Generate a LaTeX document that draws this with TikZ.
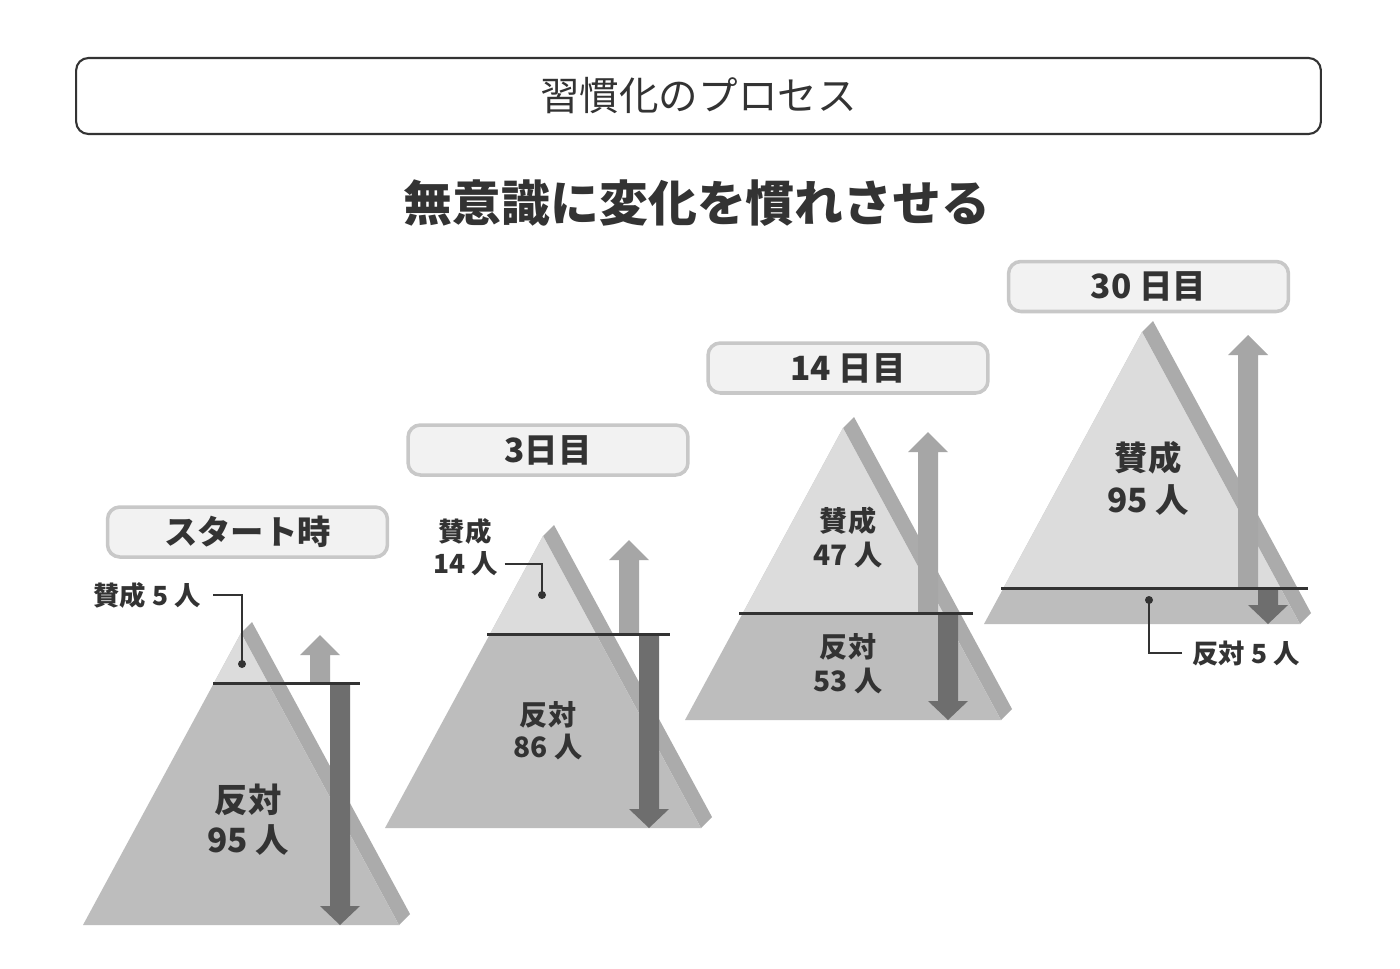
\documentclass[tikz,border=0pt]{standalone}
\usepackage{fontspec}
\setmainfont{Noto Sans CJK JP}
\definecolor{txtc}{HTML}{333333}
\definecolor{boxb}{HTML}{C8C8C8}
\definecolor{boxf}{HTML}{F2F2F2}
\definecolor{lowc}{HTML}{BDBDBD}
\definecolor{upc}{HTML}{DCDCDC}
\definecolor{stripc}{HTML}{ABABAB}
\definecolor{uparc}{HTML}{A6A6A6}
\definecolor{dnarc}{HTML}{6E6E6E}
\tikzset{
  daybox/.style={draw=boxb, line width=2pt, fill=boxf, rounded corners=7pt,
    minimum width=5.6cm, minimum height=1cm, inner sep=0pt,
    font=\bfseries\fontsize{19}{21}\selectfont, text=txtc},
  bigtxt/.style={inner sep=0pt, text=txtc, font=\bfseries\fontsize{19}{21}\selectfont},
  midtxt/.style={inner sep=0pt, text=txtc, font=\bfseries\fontsize{16}{18}\selectfont},
  smalltxt/.style={inner sep=0pt, text=txtc, font=\bfseries\fontsize{15}{17}\selectfont},
  divline/.style={draw=txtc, line width=1.7pt},
  leader/.style={draw=txtc, line width=0.9pt},
  dotc/.style={fill=txtc},
}
% #1 cx, #2 base y, #3 line y, #4 line x1, #5 line x2, #6 up cx, #7 up tip y, #8 down cx
\newcommand\mypyr[8]{%
  \fill[stripc] ({#1},{#2-292}) -- ({#1+11},{#2-303}) -- ({#1+169},{#2-11}) -- ({#1+158},{#2}) -- cycle;
  \fill[lowc] ({#1-158},{#2}) -- ({#1},{#2-292}) -- ({#1+158},{#2}) -- cycle;
  \begin{scope}
    \clip ({#1-200},{#2-400}) rectangle ({#1+200},{#3});
    \fill[upc] ({#1-158},{#2}) -- ({#1},{#2-292}) -- ({#1+158},{#2}) -- cycle;
  \end{scope}
  \fill[uparc] ({#6-10},{#3}) -- ({#6-10},{#7+20}) -- ({#6-20},{#7+20}) -- ({#6},{#7})
    -- ({#6+20},{#7+20}) -- ({#6+10},{#7+20}) -- ({#6+10},{#3}) -- cycle;
  \fill[dnarc] ({#8-10},{#3}) -- ({#8-10},{#2-19}) -- ({#8-20},{#2-19}) -- ({#8},{#2})
    -- ({#8+20},{#2-19}) -- ({#8+10},{#2-19}) -- ({#8+10},{#3}) -- cycle;
  \draw[divline] ({#4},{#3}) -- ({#5},{#3});
}
\begin{document}
\begin{tikzpicture}[x=0.02cm,y=-0.02cm]
\useasboundingbox[fill=white] (0,0) rectangle (1400,968);
% title
\node[draw=txtc, line width=1.2pt, rounded corners=7pt, minimum width=24.9cm, minimum height=1.52cm,
  inner sep=0pt, text=txtc, font=\fontsize{22.5}{24}\selectfont] (title) at (698.5,96) {習慣化のプロセス};
\node[inner sep=0pt, text=txtc, font=\bfseries\fontsize{27.8}{30}\selectfont] (sub) at (697,203) {無意識に変化を慣れさせる};
% pyramids
\mypyr{241}{925}{683}{213}{360}{320}{635}{340}
\mypyr{543}{828}{634}{487}{670}{629}{540}{649}
\mypyr{843}{720}{613}{739}{973}{928}{432}{948}
\mypyr{1142}{624}{588}{1001}{1308}{1248}{335}{1268}
% day boxes
\node[daybox] (b1) at (247.5,532) {スタート時};
\node[daybox] (b2) at (548,450) {3日目};
\node[daybox] (b3) at (848,368) {14 日目};
\node[daybox] (b4) at (1148.5,286.5) {30 日目};
% pyramid 1 labels
\node[smalltxt, anchor=east] (s1) at (201,595) {賛成 5 人};
\coordinate (d1) at (242,664);
\fill[dotc] (d1) circle (4);
\draw[leader] (s1.east) ++(12,0) -| (d1);
\node[bigtxt] (p1a) at (248,800) {反対};
\node[bigtxt] (p1b) at (248,840) {95 人};
% pyramid 2 labels
\node[smalltxt] (s2a) at (465,531) {賛成};
\node[smalltxt] (s2b) at (466,564) {14 人};
\coordinate (d2) at (542,595);
\fill[dotc] (d2) circle (4);
\draw[leader] (s2b.east) ++(6,0) -| (d2);
\node[midtxt] (p2a) at (548,715) {反対};
\node[midtxt] (p2b) at (548,747) {86 人};
% pyramid 3 labels
\node[midtxt] (p3a) at (848,521) {賛成};
\node[midtxt] (p3b) at (848,555) {47 人};
\node[midtxt] (p3c) at (848,647) {反対};
\node[midtxt] (p3d) at (848,681) {53 人};
% pyramid 4 labels
\node[bigtxt] (p4a) at (1148,458) {賛成};
\node[bigtxt] (p4b) at (1148,500) {95 人};
\coordinate (d4) at (1149,600);
\fill[dotc] (d4) circle (4);
\node[smalltxt, anchor=west] (s4) at (1192,653) {反対 5 人};
\draw[leader] (s4.west) ++(-10,0) -| (d4);
\end{tikzpicture}
\end{document}
